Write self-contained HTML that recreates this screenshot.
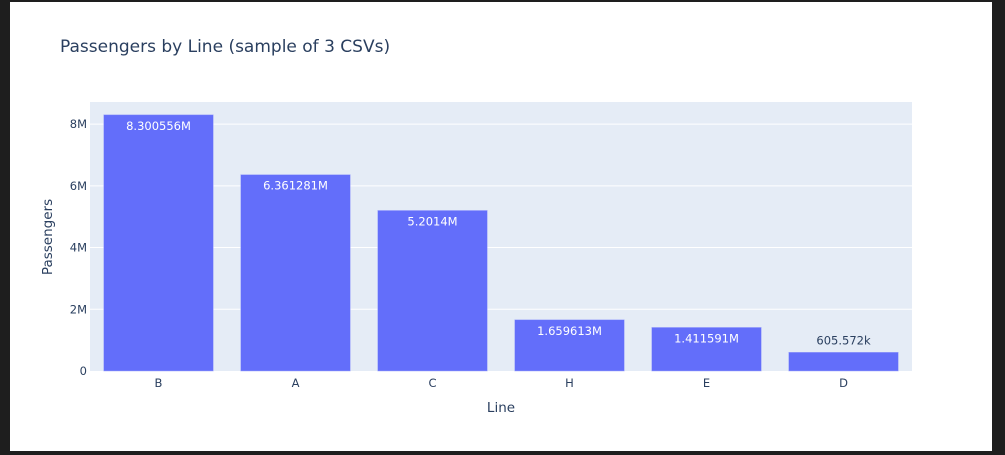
<!DOCTYPE html>
<html><head><meta charset="utf-8"><style>
html,body{margin:0;padding:0;background:#1e1e1e;}
#wrap{position:absolute;left:0;top:0;width:1005px;height:455px;background:#1e1e1e;overflow:hidden;}
svg{position:absolute;left:0;top:0;}
text{font-family:"DejaVu Sans","Liberation Sans",Arial,sans-serif;}
</style></head><body>
<div id="wrap">
<svg id="chart" width="1005" height="455">
<rect x="10" y="2" width="982" height="449" fill="#ffffff"/>
<text x="60" y="52" font-size="17" fill="#2a3f5f">Passengers by Line (sample of 3 CSVs)</text>
<rect x="90" y="102" width="822" height="269" fill="#e5ecf6"/>
<g id="grid"></g><g id="bars"></g><g id="ticks"></g>
<text x="501" y="412" font-size="13.5" fill="#2a3f5f" text-anchor="middle">Line</text>
<text transform="translate(52,237) rotate(-90)" font-size="13.5" fill="#2a3f5f" text-anchor="middle">Passengers</text>
</svg></div>
<script>
const categories = ["B","A","C","H","E","D"];
const values = [8300556,6361281,5201400,1659613,1411591,605572];
const valueLabels = ["8.300556M","6.361281M","5.2014M","1.659613M","1.411591M","605.572k"];
const yTicks = [0,2000000,4000000,6000000,8000000];
const yTickLabels = ["0","2M","4M","6M","8M"];

const NS="http://www.w3.org/2000/svg";
const X0=90,X1=912,Y0=371,Y1=102;
const yMax=Math.max(...values)*1.05;
function y(v){return Y0-(v/yMax)*(Y0-Y1);}
const band=(X1-X0)/categories.length;
function xc(i){return X0+band*(i+0.5);}
function mk(tag,attrs,parent){const e=document.createElementNS(NS,tag);for(const k in attrs)e.setAttribute(k,attrs[k]);parent.appendChild(e);return e;}
const grid=document.getElementById('grid'),bars=document.getElementById('bars'),ticks=document.getElementById('ticks');
yTicks.forEach((t,i)=>{
  if(t>0){const l=mk('line',{x1:X0,x2:X1,y1:y(t),y2:y(t),stroke:'#ffffff','stroke-width':1},grid);
  
  }
  const tx=mk('text',{x:X0-3,y:y(t)+4,'font-size':11.5,fill:'#2a3f5f','text-anchor':'end'},ticks);
  tx.textContent=yTickLabels[i];
  
  
});
categories.forEach((c,i)=>{
  const w=band*0.8,bx=xc(i)-w/2,by=y(values[i]);
  const r=mk('rect',{x:bx,y:by,width:w,height:Y0-by,fill:'#636efa',stroke:'#a0a7fc','stroke-width':0.5},bars);
  
  
  const inside=(Y0-by)>30;
  const lt=mk('text',{x:xc(i),y:inside?by+15:by-8,'font-size':11.5,fill:inside?'#ffffff':'#2a3f5f','text-anchor':'middle'},bars);
  lt.textContent=valueLabels[i];
  
  
  const xt=mk('text',{x:xc(i),y:Y0+16,'font-size':11.5,fill:'#2a3f5f','text-anchor':'middle'},ticks);
  xt.textContent=c;
  
  
});
</script>
</body></html>
